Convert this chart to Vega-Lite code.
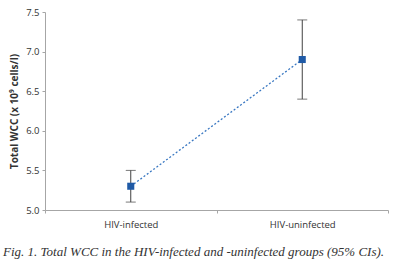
{
  "$schema": "https://vega.github.io/schema/vega-lite/v6.json",
  "width": 343,
  "height": 198,
  "autosize": {"type": "none"},
  "padding": {"left": 45, "top": 12, "right": 11, "bottom": 51},
  "background": "white",
  "config": {
    "view": {"stroke": null},
    "font": "Open Sans",
    "axisY": {
      "titleFontSize": 10,
      "titleFontWeight": "bold",
      "titleColor": "#333333",
      "titlePadding": 6,
      "labelOverlap": false,
      "labelFlush": false,
      "labelFontSize": 9.5,
      "labelColor": "#333333",
      "labelPadding": 3,
      "domainColor": "#a6a6a6",
      "tickColor": "#a6a6a6",
      "tickSize": 3,
      "grid": false
    }
  },
  "title": {
    "text": "Fig. 1. Total WCC in the HIV-infected and -uninfected groups (95% CIs).",
    "orient": "bottom",
    "anchor": "start",
    "frame": "group",
    "dx": -42,
    "offset": 17,
    "font": "Liberation Serif",
    "fontStyle": "italic",
    "fontWeight": "normal",
    "fontSize": 13,
    "color": "#333333"
  },
  "data": {
    "values": [
      {"group": "HIV-infected", "mean": 5.3, "lo": 5.1, "hi": 5.5},
      {"group": "HIV-uninfected", "mean": 6.9, "lo": 6.4, "hi": 7.4}
    ]
  },
  "encoding": {
    "x": {
      "field": "group",
      "type": "nominal",
      "sort": null,
      "scale": {"paddingInner": 0, "paddingOuter": 0},
      "axis": {
        "title": null,
        "labelAngle": 0,
        "labelFontSize": 9.5,
        "labelColor": "#333333",
        "labelPadding": 6,
        "domainColor": "#a6a6a6",
        "tickColor": "#a6a6a6",
        "tickBand": "extent",
        "tickSize": 3
      }
    }
  },
  "layer": [
    {
      "mark": {"type": "rule", "color": "#404040", "strokeWidth": 1},
      "encoding": {
        "y": {
          "field": "lo",
          "type": "quantitative",
          "scale": {"domain": [5, 7.5], "nice": false, "zero": false},
          "axis": {"title": "Total WCC (x 10⁹ cells/l)", "values": [5, 5.5, 6, 6.5, 7, 7.5], "format": ".1f"}
        },
        "y2": {"field": "hi"}
      }
    },
    {
      "mark": {"type": "tick", "color": "#404040", "size": 10, "thickness": 1, "orient": "horizontal"},
      "encoding": {"y": {"field": "lo", "type": "quantitative", "axis": {"title": "Total WCC (x 10⁹ cells/l)", "values": [5, 5.5, 6, 6.5, 7, 7.5], "format": ".1f"}}}
    },
    {
      "mark": {"type": "tick", "color": "#404040", "size": 10, "thickness": 1, "orient": "horizontal"},
      "encoding": {"y": {"field": "hi", "type": "quantitative", "axis": {"title": "Total WCC (x 10⁹ cells/l)", "values": [5, 5.5, 6, 6.5, 7, 7.5], "format": ".1f"}}}
    },
    {
      "mark": {"type": "line", "color": "#3a78c2", "strokeWidth": 1.3, "strokeDash": [2, 2]},
      "encoding": {"y": {"field": "mean", "type": "quantitative", "axis": {"title": "Total WCC (x 10⁹ cells/l)", "values": [5, 5.5, 6, 6.5, 7, 7.5], "format": ".1f"}}}
    },
    {
      "mark": {"type": "square", "color": "#1f5aa6", "opacity": 1, "filled": true, "size": 50},
      "encoding": {"y": {"field": "mean", "type": "quantitative", "axis": {"title": "Total WCC (x 10⁹ cells/l)", "values": [5, 5.5, 6, 6.5, 7, 7.5], "format": ".1f"}}}
    }
  ]
}
